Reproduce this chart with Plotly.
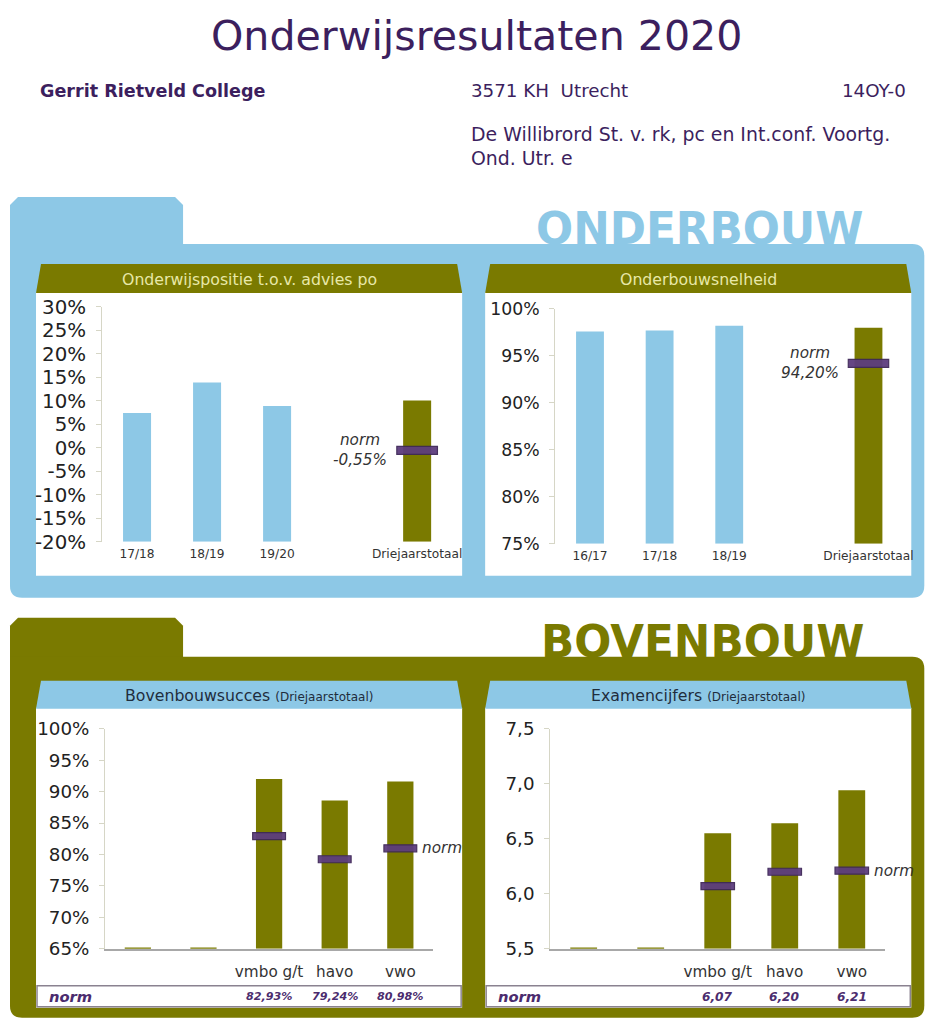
import plotly.graph_objects as go

# ---------------- data ----------------
ob_pos_cats = ["17/18", "18/19", "19/20", "", "Driejaarstotaal"]
ob_pos_vals = [7.4, 13.9, 8.9, None, 10.1]
ob_pos_norm = -0.55
ob_pos_ticks = [-20, -15, -10, -5, 0, 5, 10, 15, 20, 25, 30]

ob_sn_cats = ["16/17", "17/18", "18/19", "", "Driejaarstotaal"]
ob_sn_vals = [97.6, 97.7, 98.2, None, 98.0]
ob_sn_norm = 94.20
ob_sn_ticks = [75, 80, 85, 90, 95, 100]

bb_cats = ["", "", "vmbo g/t", "havo", "vwo"]
bb_succ_vals = [None, None, 92.0, 88.6, 91.6]
bb_succ_norm = [None, None, 82.93, 79.24, 80.98]
bb_succ_ticks = [65, 70, 75, 80, 85, 90, 95, 100]

bb_exam_vals = [None, None, 6.55, 6.64, 6.94]
bb_exam_norm = [None, None, 6.07, 6.20, 6.21]
bb_exam_ticks = [5.5, 6.0, 6.5, 7.0, 7.5]

# ---------------- style ----------------
W, H = 936, 1032
SX, SY, OY = 0.989, 0.978, 10.0   # observed photo mapping compensation
FS = 1.016
BLUE = "#8DC8E6"
OLIVE = "#7A7A00"
PURPLE = "#3C1F5E"
NORMFILL = "#5D3D7E"
NORMLINE = "#3F2858"
FONT = "DejaVu Sans"


def px(x):
    return (x / SX) / W


def py(y):
    return 1 - ((y - OY) / SY) / H


def fs(s):
    return s * FS


def path(cmds):
    out = []
    for c in cmds:
        op = c[0]
        nums = c[1:]
        pts = []
        for i in range(0, len(nums), 2):
            pts.append(f"{px(nums[i]):.5f},{py(nums[i + 1]):.5f}")
        out.append(op + " " + " ".join(pts))
    return " ".join(out) + " Z"


shapes = []
annotations = []


def add_path(cmds, fill, layer="below"):
    shapes.append(dict(type="path", xref="paper", yref="paper", path=path(cmds),
                       fillcolor=fill, line=dict(color=fill, width=0), layer=layer))


def rounded_rect(x0, y0, x1, y1, r, fill, tl=True):
    cmds = []
    if tl:
        cmds.append(("M", x0, y0 + r))
        cmds.append(("Q", x0, y0, x0 + r, y0))
    else:
        cmds.append(("M", x0, y0))
    cmds.append(("L", x1 - r, y0))
    cmds.append(("Q", x1, y0, x1, y0 + r))
    cmds.append(("L", x1, y1 - r))
    cmds.append(("Q", x1, y1, x1 - r, y1))
    cmds.append(("L", x0 + r, y1))
    cmds.append(("Q", x0, y1, x0, y1 - r))
    add_path(cmds, fill)


def tab(x0, y0, x1, y1, c, fill):
    add_path([("M", x0, y1), ("L", x0, y0 + c), ("L", x0 + c, y0), ("L", x1 - c, y0),
              ("L", x1, y0 + c), ("L", x1, y1)], fill)


def text(x, y, s, size, color, xanchor="center", yanchor="middle", bold=False, italic=False):
    if bold:
        s = f"<b>{s}</b>"
    if italic:
        s = f"<i>{s}</i>"
    annotations.append(dict(xref="paper", yref="paper", x=px(x), y=py(y), text=s,
                            showarrow=False, xanchor=xanchor, yanchor=yanchor,
                            font=dict(family=FONT, size=fs(size), color=color)))


# ---------------- header texts ----------------
text(476, 35, "Onderwijsresultaten 2020", 40.5, PURPLE)
text(38, 90, "Gerrit Rietveld College", 17.3, PURPLE, xanchor="left", bold=True)
text(469, 90, "3571 KH  Utrecht", 18, PURPLE, xanchor="left")
text(908, 90, "14OY-0", 18, PURPLE, xanchor="right")
text(469, 133, "De Willibrord St. v. rk, pc en Int.conf. Voortg.", 18.6, PURPLE, xanchor="left")
text(469, 157, "Ond. Utr. e", 18.6, PURPLE, xanchor="left")

# ---------------- panels ----------------
tab(10, 196, 183, 250, 8, BLUE)
rounded_rect(10, 243, 924, 597, 12, BLUE, tl=False)
text(699, 228, "ONDERBOUW", 43, BLUE, bold=True)

tab(10, 617, 183, 662, 8, OLIVE)
rounded_rect(10, 656, 924, 1017, 12, OLIVE, tl=False)
text(702, 641, "BOVENBOUW", 43, OLIVE, bold=True)

cards = [
    (36, 462, 263, 292, 575, OLIVE,
     "Onderwijspositie t.o.v. advies po", "#E8E8A8"),
    (485, 911, 263, 292, 575, OLIVE, "Onderbouwsnelheid", "#E8E8A8"),
    (36, 462, 680, 708, 1007, BLUE,
     "Bovenbouwsucces <span style='font-size:12px'>(Driejaarstotaal)</span>", "#1F2D3D"),
    (485, 911, 680, 708, 1007, BLUE,
     "Examencijfers <span style='font-size:12px'>(Driejaarstotaal)</span>", "#1F2D3D"),
]
for (x0, x1, yt, yh, yb, hcol, title, tcol) in cards:
    shapes.append(dict(type="rect", xref="paper", yref="paper", x0=px(x0), x1=px(x1),
                       y0=py(yb), y1=py(yh - 1), fillcolor="white", line=dict(width=0),
                       layer="below"))
    add_path([("M", x0, yh), ("L", x0 + 5, yt), ("L", x1 - 5, yt), ("L", x1, yh)], hcol)
    text((x0 + x1) / 2, (yt + yh) / 2 + 1, title, 15.5, tcol)

for (x0, x1) in [(37, 461), (486, 910)]:
    shapes.append(dict(type="rect", xref="paper", yref="paper", x0=px(x0), x1=px(x1),
                       y0=py(1006), y1=py(985), fillcolor="white",
                       line=dict(color="#8A8290", width=1.5), layer="below"))
    text(x0 + 10, 996, "norm", 14.5, "#4B2C6E", xanchor="left", bold=True, italic=True)

# ---------------- charts ----------------
fig = go.Figure()

charts = [
    dict(cats=ob_pos_cats, vals=ob_pos_vals, ticks=ob_pos_ticks,
         ticktext=[f"{t}%" for t in ob_pos_ticks], xd=(102, 452), yd=(306, 541),
         colors=[BLUE, BLUE, BLUE, BLUE, OLIVE], xfont=12, yfont=19.5, xline=False,
         standoff=3),
    dict(cats=ob_sn_cats, vals=ob_sn_vals, ticks=ob_sn_ticks,
         ticktext=[f"{t}%" for t in ob_sn_ticks], xd=(555, 903), yd=(308, 543),
         colors=[BLUE, BLUE, BLUE, BLUE, OLIVE], xfont=12, yfont=17, xline=False,
         standoff=3),
    dict(cats=bb_cats, vals=bb_succ_vals, ticks=bb_succ_ticks,
         ticktext=[f"{t}%" for t in bb_succ_ticks], xd=(105, 433), yd=(728, 948),
         colors=[OLIVE] * 5, xfont=15, yfont=18, xline=True, standoff=8),
    dict(cats=bb_cats, vals=bb_exam_vals, ticks=bb_exam_ticks,
         ticktext=[f"{t:.1f}".replace(".", ",") for t in bb_exam_ticks], xd=(550, 885),
         yd=(728, 948), colors=[OLIVE] * 5, xfont=15, yfont=18, xline=True, standoff=8),
]
axis_ids = ["", "2", "3", "4"]

layout_axes = {}
for k, ch in enumerate(charts):
    aid = axis_ids[k]
    xa, ya = "x" + aid, "y" + aid
    base = ch["ticks"][0]
    xs = list(range(len(ch["cats"])))
    fig.add_trace(go.Bar(
        x=xs, y=[(v - base) if v is not None else None for v in ch["vals"]],
        base=base, width=0.4, marker=dict(color=ch["colors"], line=dict(width=0)),
        xaxis=xa, yaxis=ya, showlegend=False, hoverinfo="skip"))
    layout_axes["xaxis" + aid] = dict(
        domain=[px(ch["xd"][0]), px(ch["xd"][1])], range=[-0.5, len(xs) - 0.5],
        anchor=ya, tickmode="array", tickvals=xs, ticktext=ch["cats"], ticks="",
        showline=ch["xline"], linecolor="#A8A8A8", linewidth=1.5, showgrid=False,
        zeroline=False, fixedrange=True, ticklabelstandoff=ch["standoff"],
        tickfont=dict(family=FONT, size=fs(ch["xfont"]), color="#333333"))
    layout_axes["yaxis" + aid] = dict(
        domain=[py(ch["yd"][1]), py(ch["yd"][0])], range=[ch["ticks"][0], ch["ticks"][-1]],
        anchor=xa, tickmode="array", tickvals=ch["ticks"], ticktext=ch["ticktext"],
        ticks="outside", ticklen=5, tickcolor="#D6D6C6", showline=True, linecolor="#D6D6C6",
        linewidth=1, showgrid=False, zeroline=False, fixedrange=True, ticklabelstandoff=6,
        tickfont=dict(family=FONT, size=fs(ch["yfont"]), color="#222222"))
    if ch["xline"]:
        for i, v in enumerate(ch["vals"]):
            if v is None:
                shapes.append(dict(type="line", xref=xa, yref=ya, x0=i - 0.2, x1=i + 0.2,
                                   y0=base, y1=base, line=dict(color=OLIVE, width=2.5),
                                   layer="above"))


def norm_marker(aid, i, val, mw, mh):
    shapes.append(dict(type="rect", xref="x" + aid, yref="y" + aid, x0=i - mw, x1=i + mw,
                       ysizemode="pixel", yanchor=val, y0=-mh, y1=mh,
                       fillcolor=NORMFILL, line=dict(color=NORMLINE, width=1.2),
                       opacity=0.95, layer="above"))


norm_marker("", 4, ob_pos_norm, 0.29, 4)
norm_marker("2", 4, ob_sn_norm, 0.29, 4)
for i, v in enumerate(bb_succ_norm):
    if v is not None:
        norm_marker("3", i, v, 0.25, 3.5)
for i, v in enumerate(bb_exam_norm):
    if v is not None:
        norm_marker("4", i, v, 0.25, 3.5)

annotations.append(dict(xref="x", yref="y", x=4, y=ob_pos_norm, xshift=-57,
                        text="<i>norm<br>" + f"{ob_pos_norm:.2f}".replace(".", ",") + "%</i>",
                        showarrow=False, xanchor="center", yanchor="middle", align="center",
                        font=dict(family=FONT, size=fs(15), color="#333333")))
annotations.append(dict(xref="x2", yref="y2", x=4, y=ob_sn_norm, xshift=-58,
                        text="<i>norm<br>" + f"{ob_sn_norm:.2f}".replace(".", ",") + "%</i>",
                        showarrow=False, xanchor="center", yanchor="middle", align="center",
                        font=dict(family=FONT, size=fs(15), color="#333333")))
annotations.append(dict(xref="x3", yref="y3", x=4, y=bb_succ_norm[4], xshift=20,
                        text="<i>norm</i>", showarrow=False, xanchor="left",
                        font=dict(family=FONT, size=fs(15), color="#333333")))
annotations.append(dict(xref="x4", yref="y4", x=4, y=bb_exam_norm[4], xshift=20,
                        text="<i>norm</i>", showarrow=False, xanchor="left",
                        font=dict(family=FONT, size=fs(15), color="#333333")))

for i, v in enumerate(bb_succ_norm):
    if v is not None:
        annotations.append(dict(xref="x3", yref="paper", x=i, y=py(996),
                                text="<b><i>" + f"{v:.2f}".replace(".", ",") + "%</i></b>",
                                showarrow=False, xanchor="center", yanchor="middle",
                                font=dict(family=FONT, size=fs(11), color="#4B2C6E")))
for i, v in enumerate(bb_exam_norm):
    if v is not None:
        annotations.append(dict(xref="x4", yref="paper", x=i, y=py(996),
                                text="<b><i>" + f"{v:.2f}".replace(".", ",") + "</i></b>",
                                showarrow=False, xanchor="center", yanchor="middle",
                                font=dict(family=FONT, size=fs(12), color="#4B2C6E")))

fig.update_layout(
    width=W, height=H, margin=dict(l=0, r=0, t=0, b=0), autosize=False,
    paper_bgcolor="white", plot_bgcolor="rgba(0,0,0,0)",
    separators=",.", bargap=0.6, showlegend=False,
    font=dict(family=FONT), shapes=shapes, annotations=annotations,
    **layout_axes)

fig.write_html("out.html",
               config={"displayModeBar": False, "responsive": False},
               post_script="document.documentElement.style.margin='0px';"
                           "document.body.style.margin='0px';"
                           "document.documentElement.style.overflow='hidden';"
                           "document.body.style.overflow='hidden';")
